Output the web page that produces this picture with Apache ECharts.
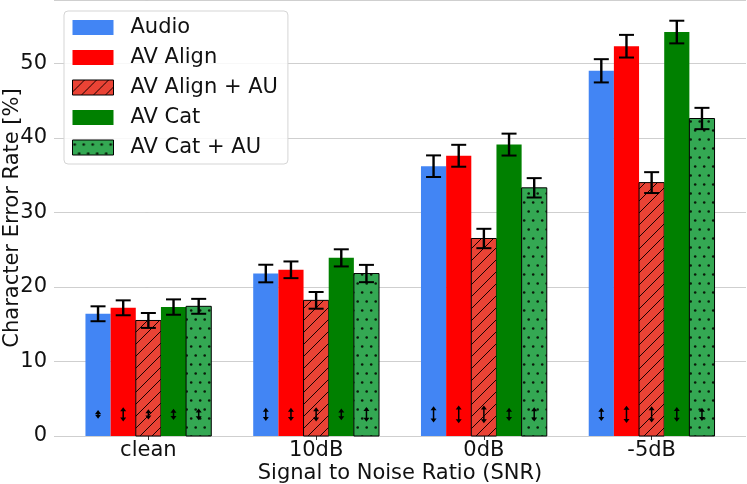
<!DOCTYPE html>
<html>
<head>
<meta charset="utf-8">
<script src="https://cdn.jsdelivr.net/npm/echarts@6/dist/echarts.min.js"></script>
<style>
html,body{margin:0;padding:0;background:#fff;}
#c{width:747px;height:484px;}
</style>
</head>
<body>
<div id="c"></div>
<script>
// ---- data ----
const categories = ['clean', '10dB', '0dB', '-5dB'];
const seriesNames = ['Audio', 'AV Align', 'AV Align + AU', 'AV Cat', 'AV Cat + AU'];
const audio      = [16.4, 21.8, 36.2, 49.0];
const avAlign    = [17.2, 22.3, 37.6, 52.3];
const avAlignAU  = [15.5, 18.2, 26.5, 34.0];
const avCat      = [17.3, 23.9, 39.1, 54.2];
const avCatAU    = [17.4, 21.8, 33.3, 42.6];
const audioErr     = [1.0, 1.18, 1.45, 1.56];
const avAlignErr   = [1.0, 1.12, 1.47, 1.52];
const avAlignAUErr = [1.0, 1.12, 1.3, 1.4];
const avCatErr     = [1.03, 1.15, 1.47, 1.52];
const avCatAUErr   = [1.0, 1.16, 1.3, 1.43];
// small double arrows near the bottom (center and span, in %)
const arrowCenter = 2.9;
const audioArrow     = [1.2, 1.75, 2.15, 1.75];
const avAlignArrow   = [1.9, 1.75, 2.4, 2.3];
const avAlignAUArrow = [1.35, 1.9, 2.4, 2.15];
const avCatArrow     = [1.5, 1.6, 1.75, 2.0];
const avCatAUArrow   = [1.6, 2.0, 1.9, 1.75];
const yTicks = [0, 10, 20, 30, 40, 50];

// ---- patterns ----
function hatchCanvas() {
  const s = 12, c = document.createElement('canvas');
  c.width = s; c.height = s;
  const g = c.getContext('2d');
  g.fillStyle = '#EA4335'; g.fillRect(0, 0, s, s);
  g.strokeStyle = '#1a0000'; g.lineWidth = 1;
  g.beginPath();
  g.moveTo(-1, s + 1); g.lineTo(s + 1, -1);
  g.moveTo(-1, 1); g.lineTo(1, -1);
  g.moveTo(s - 1, s + 1); g.lineTo(s + 1, s - 1);
  g.stroke();
  return c;
}
function dotsCanvas() {
  const w = 9, h = 18, c = document.createElement('canvas');
  c.width = w; c.height = h;
  const g = c.getContext('2d');
  g.fillStyle = '#34A853'; g.fillRect(0, 0, w, h);
  g.fillStyle = '#0a1a0a';
  [[2.2, 4.5], [6.7, 13.5]].forEach(p => { g.beginPath(); g.arc(p[0], p[1], 1.3, 0, Math.PI * 2); g.fill(); });
  return c;
}
const hatch = { image: hatchCanvas(), repeat: 'repeat' };
const dots = { image: dotsCanvas(), repeat: 'repeat' };

const styles = [
  { color: '#4285F4', borderColor: '#4285F4', borderWidth: 0 },
  { color: '#FF0000', borderColor: '#FF0000', borderWidth: 0 },
  { color: hatch, borderColor: '#000', borderWidth: 1 },
  { color: '#008000', borderColor: '#008000', borderWidth: 0 },
  { color: dots, borderColor: '#000', borderWidth: 1 }
];
const values = [audio, avAlign, avAlignAU, avCat, avCatAU];
const errs = [audioErr, avAlignErr, avAlignAUErr, avCatErr, avCatAUErr];
const arrows = [audioArrow, avAlignArrow, avAlignAUArrow, avCatArrow, avCatAUArrow];
const barW = 0.15;

function renderItem(params, api) {
  const si = params.seriesIndex;
  const idx = api.value(0), v = api.value(1), e = api.value(2), sp = api.value(3);
  const xc = idx + (si - 2) * barW;
  const p0 = api.coord([xc - barW / 2, 0]);
  const p1 = api.coord([xc + barW / 2, v]);
  const st = styles[si];
  const children = [];
  children.push({
    type: 'rect',
    shape: { x: p0[0], y: p1[1], width: p1[0] - p0[0], height: p0[1] - p1[1] },
    style: { fill: st.color, stroke: st.borderWidth ? st.borderColor : null, lineWidth: st.borderWidth }
  });
  // arrow
  const ac = api.coord([xc, arrowCenter + sp / 2]);
  const ab = api.coord([xc, arrowCenter - sp / 2]);
  const hx = 3, hy = 4;
  children.push({ type: 'line', shape: { x1: ac[0], y1: ac[1] + 2, x2: ab[0], y2: ab[1] - 2 }, style: { stroke: '#000', lineWidth: 1.5 } });
  children.push({ type: 'polygon', shape: { points: [[ac[0], ac[1]], [ac[0] - hx, ac[1] + hy], [ac[0] + hx, ac[1] + hy]] }, style: { fill: '#000' } });
  children.push({ type: 'polygon', shape: { points: [[ab[0], ab[1]], [ab[0] - hx, ab[1] - hy], [ab[0] + hx, ab[1] - hy]] }, style: { fill: '#000' } });
  // error bar
  const et = api.coord([xc, v + e]);
  const eb = api.coord([xc, v - e]);
  const cap = 7.5;
  children.push({ type: 'line', shape: { x1: et[0], y1: et[1], x2: eb[0], y2: eb[1] }, style: { stroke: '#000', lineWidth: 2.4 } });
  children.push({ type: 'line', shape: { x1: et[0] - cap, y1: et[1], x2: et[0] + cap, y2: et[1] }, style: { stroke: '#000', lineWidth: 2 } });
  children.push({ type: 'line', shape: { x1: eb[0] - cap, y1: eb[1], x2: eb[0] + cap, y2: eb[1] }, style: { stroke: '#000', lineWidth: 2 } });
  return { type: 'group', children };
}

const series = seriesNames.map((name, si) => ({
  name,
  type: 'custom',
  renderItem,
  itemStyle: { color: styles[si].color, borderColor: styles[si].borderWidth ? '#000' : styles[si].color, borderWidth: styles[si].borderWidth },
  encode: { x: 0, y: 1 },
  data: categories.map((c, i) => [i, values[si][i], errs[si][i], arrows[si][i]]),
  z: 2
}));

const font = 'DejaVu Sans';
const fs = 21;
const tc = '#111';
const chart = echarts.init(document.getElementById('c'));
chart.setOption({
  animation: false,
  backgroundColor: '#fff',
  grid: { left: 54, right: 1, top: 0, bottom: 48, containLabel: false, outerBoundsMode: 'none' },
  xAxis: {
    type: 'value',
    min: -0.5625, max: 3.5625,
    name: 'Signal to Noise Ratio (SNR)',
    nameLocation: 'middle',
    nameGap: 27,
    nameMoveOverlap: false,
    nameTextStyle: { fontFamily: font, fontSize: fs, color: tc },
    axisLine: { show: false },
    splitLine: { show: false },
    axisTick: { show: true, length: 4, lineStyle: { color: '#333', width: 1 }, customValues: [0, 1, 2, 3] },
    axisLabel: {
      customValues: [0, 1, 2, 3],
      formatter: v => categories[Math.round(v)] || '',
      fontFamily: font, fontSize: fs, color: tc, margin: 4
    }
  },
  yAxis: {
    type: 'value',
    min: 0, max: 58.5, interval: 10,
    name: 'Character Error Rate [%]',
    nameLocation: 'middle',
    nameGap: 31,
    nameMoveOverlap: false,
    nameTextStyle: { fontFamily: font, fontSize: fs, color: tc },
    axisLine: { show: false },
    axisTick: { show: true, length: 3, lineStyle: { color: '#ccc' } },
    axisLabel: { fontFamily: font, fontSize: fs, color: tc, margin: 7, formatter: v => (yTicks.indexOf(v) >= 0 ? String(v) : '') },
    splitLine: { show: true, lineStyle: { color: '#cfcfcf', width: 1 } }
  },
  legend: {
    show: true,
    left: 64, top: 11,
    orient: 'vertical',
    icon: 'rect',
    itemWidth: 41, itemHeight: 15,
    itemGap: 9,
    padding: [6, 10, 6, 8],
    backgroundColor: 'rgba(255,255,255,0.85)',
    borderColor: '#d5d5d5', borderWidth: 1, borderRadius: 4,
    textStyle: { fontFamily: font, fontSize: fs, color: tc, padding: [0, 0, 0, 12] },
    data: seriesNames.map((n, si) => ({
      name: n,
      itemStyle: { color: styles[si].color, borderColor: styles[si].borderWidth ? '#000' : styles[si].color, borderWidth: styles[si].borderWidth }
    }))
  },
  series
});
</script>
</body>
</html>
